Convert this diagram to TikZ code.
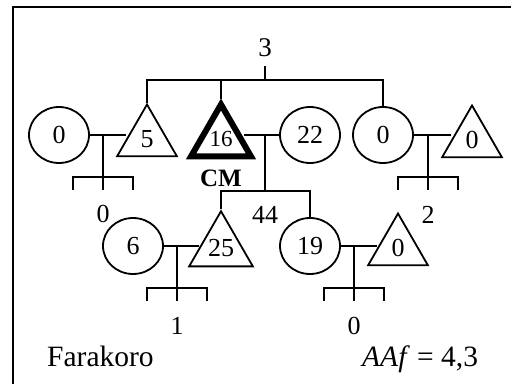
\documentclass[tikz,border=0pt]{standalone}
\usepackage{fontspec}
\setmainfont{Liberation Serif}
\usetikzlibrary{shapes.geometric}
\begin{document}
\begin{tikzpicture}[x=1pt,y=-1pt,
  every node/.style={font=\fontsize{26}{30}\selectfont, inner sep=0pt},
  caption/.style={font=\fontsize{29.5}{34}\selectfont, anchor=base west},
  line/.style={line width=1.8pt},
  frame/.style={line width=2.7pt},
  fem/.style={ellipse, draw, line width=1.8pt, minimum width=60pt, minimum height=56pt},
  mal/.style={regular polygon, regular polygon sides=3, draw, line width=1.8pt, minimum size=69pt},
  ego/.style={mal, line width=6pt, line join=miter},
  fork/.pic={
    \draw[line] (-30,13) -- (-30,0) -- (30,0) -- (30,13);
    \draw[line] (0,0) -- (0,13);
  }]
\clip (0,0) rectangle (511,383);
\fill[white] (0,0) rectangle (511,383);

% frame
\draw[frame] (13,400) -- (13,7) -- (530,7);

% first generation
\node[fem] (a1) at (59,135) {0};
\node[mal] (a2) at (147,139) {5};
\node[ego] (cm) at (221,139) {\fontsize{23}{27}\selectfont 16};
\node[fem] (a3) at (310,135) {22};
\node[fem] (a4) at (383,135) {0};
\node[mal] (a5) at (472,140) {0};
\node[font=\fontsize{25}{29}\selectfont\bfseries] (cmlab) at (221,178) {CM};

% second generation
\node[fem] (b1) at (133,246) {6};
\node[mal] (b2) at (221,248) {25};
\node[fem] (b3) at (310,246) {19};
\node[mal] (b4) at (398,248) {0};

% sibling group of the first generation
\coordinate (sib) at (265,80);
\coordinate (sibtop) at (265,66);
\node[font=\fontsize{27}{31}\selectfont] (n3) at (265,48) {3};
\draw[line] (sibtop) -- (sib);
\draw[line] (a2.north) -- (a2.north |- sib) -- (a4.north |- sib) -- (a4.north);
\draw[line] (cm.north) -- (cm.north |- sib);

% couple a1 + a2
\coordinate (k1) at (103,177);
\draw[line] (a1.east) -- (a1.east -| a2.west);
\draw[line] (k1 |- a1.east) -- (k1);
\pic at (k1) {fork};
\node (n0a) at (103,214) {0};

% couple CM + a3
\coordinate (k2) at (265,191);
\draw[line] (a3.west -| cm.east) -- (a3.west);
\draw[line] (k2 |- a3.west) -- (k2);
\draw[line] (b2.north) -- (b2.north |- k2) -- (b3.north |- k2) -- (b3.north);
\node (n44) at (265,215) {44};

% couple a4 + a5
\coordinate (k3) at (428,177);
\draw[line] (a4.east) -- (a4.east -| a5.west);
\draw[line] (k3 |- a4.east) -- (k3);
\pic at (k3) {fork};
\node (n2) at (428,215) {2};

% couple b1 + b2
\coordinate (k4) at (177,288);
\draw[line] (b1.east) -- (b1.east -| b2.west);
\draw[line] (k4 |- b1.east) -- (k4);
\pic at (k4) {fork};
\node (n1) at (177,326) {1};

% couple b3 + b4
\coordinate (k5) at (354,288);
\draw[line] (b3.east) -- (b3.east -| b4.west);
\draw[line] (k5 |- b3.east) -- (k5);
\pic at (k5) {fork};
\node (n0b) at (354,326) {0};

% captions
\node[caption] (place) at (47,366) {Farakoro};
\node[caption] (aaf) at (362,366) {\textit{AAf} = 4,3};
\end{tikzpicture}
\end{document}
